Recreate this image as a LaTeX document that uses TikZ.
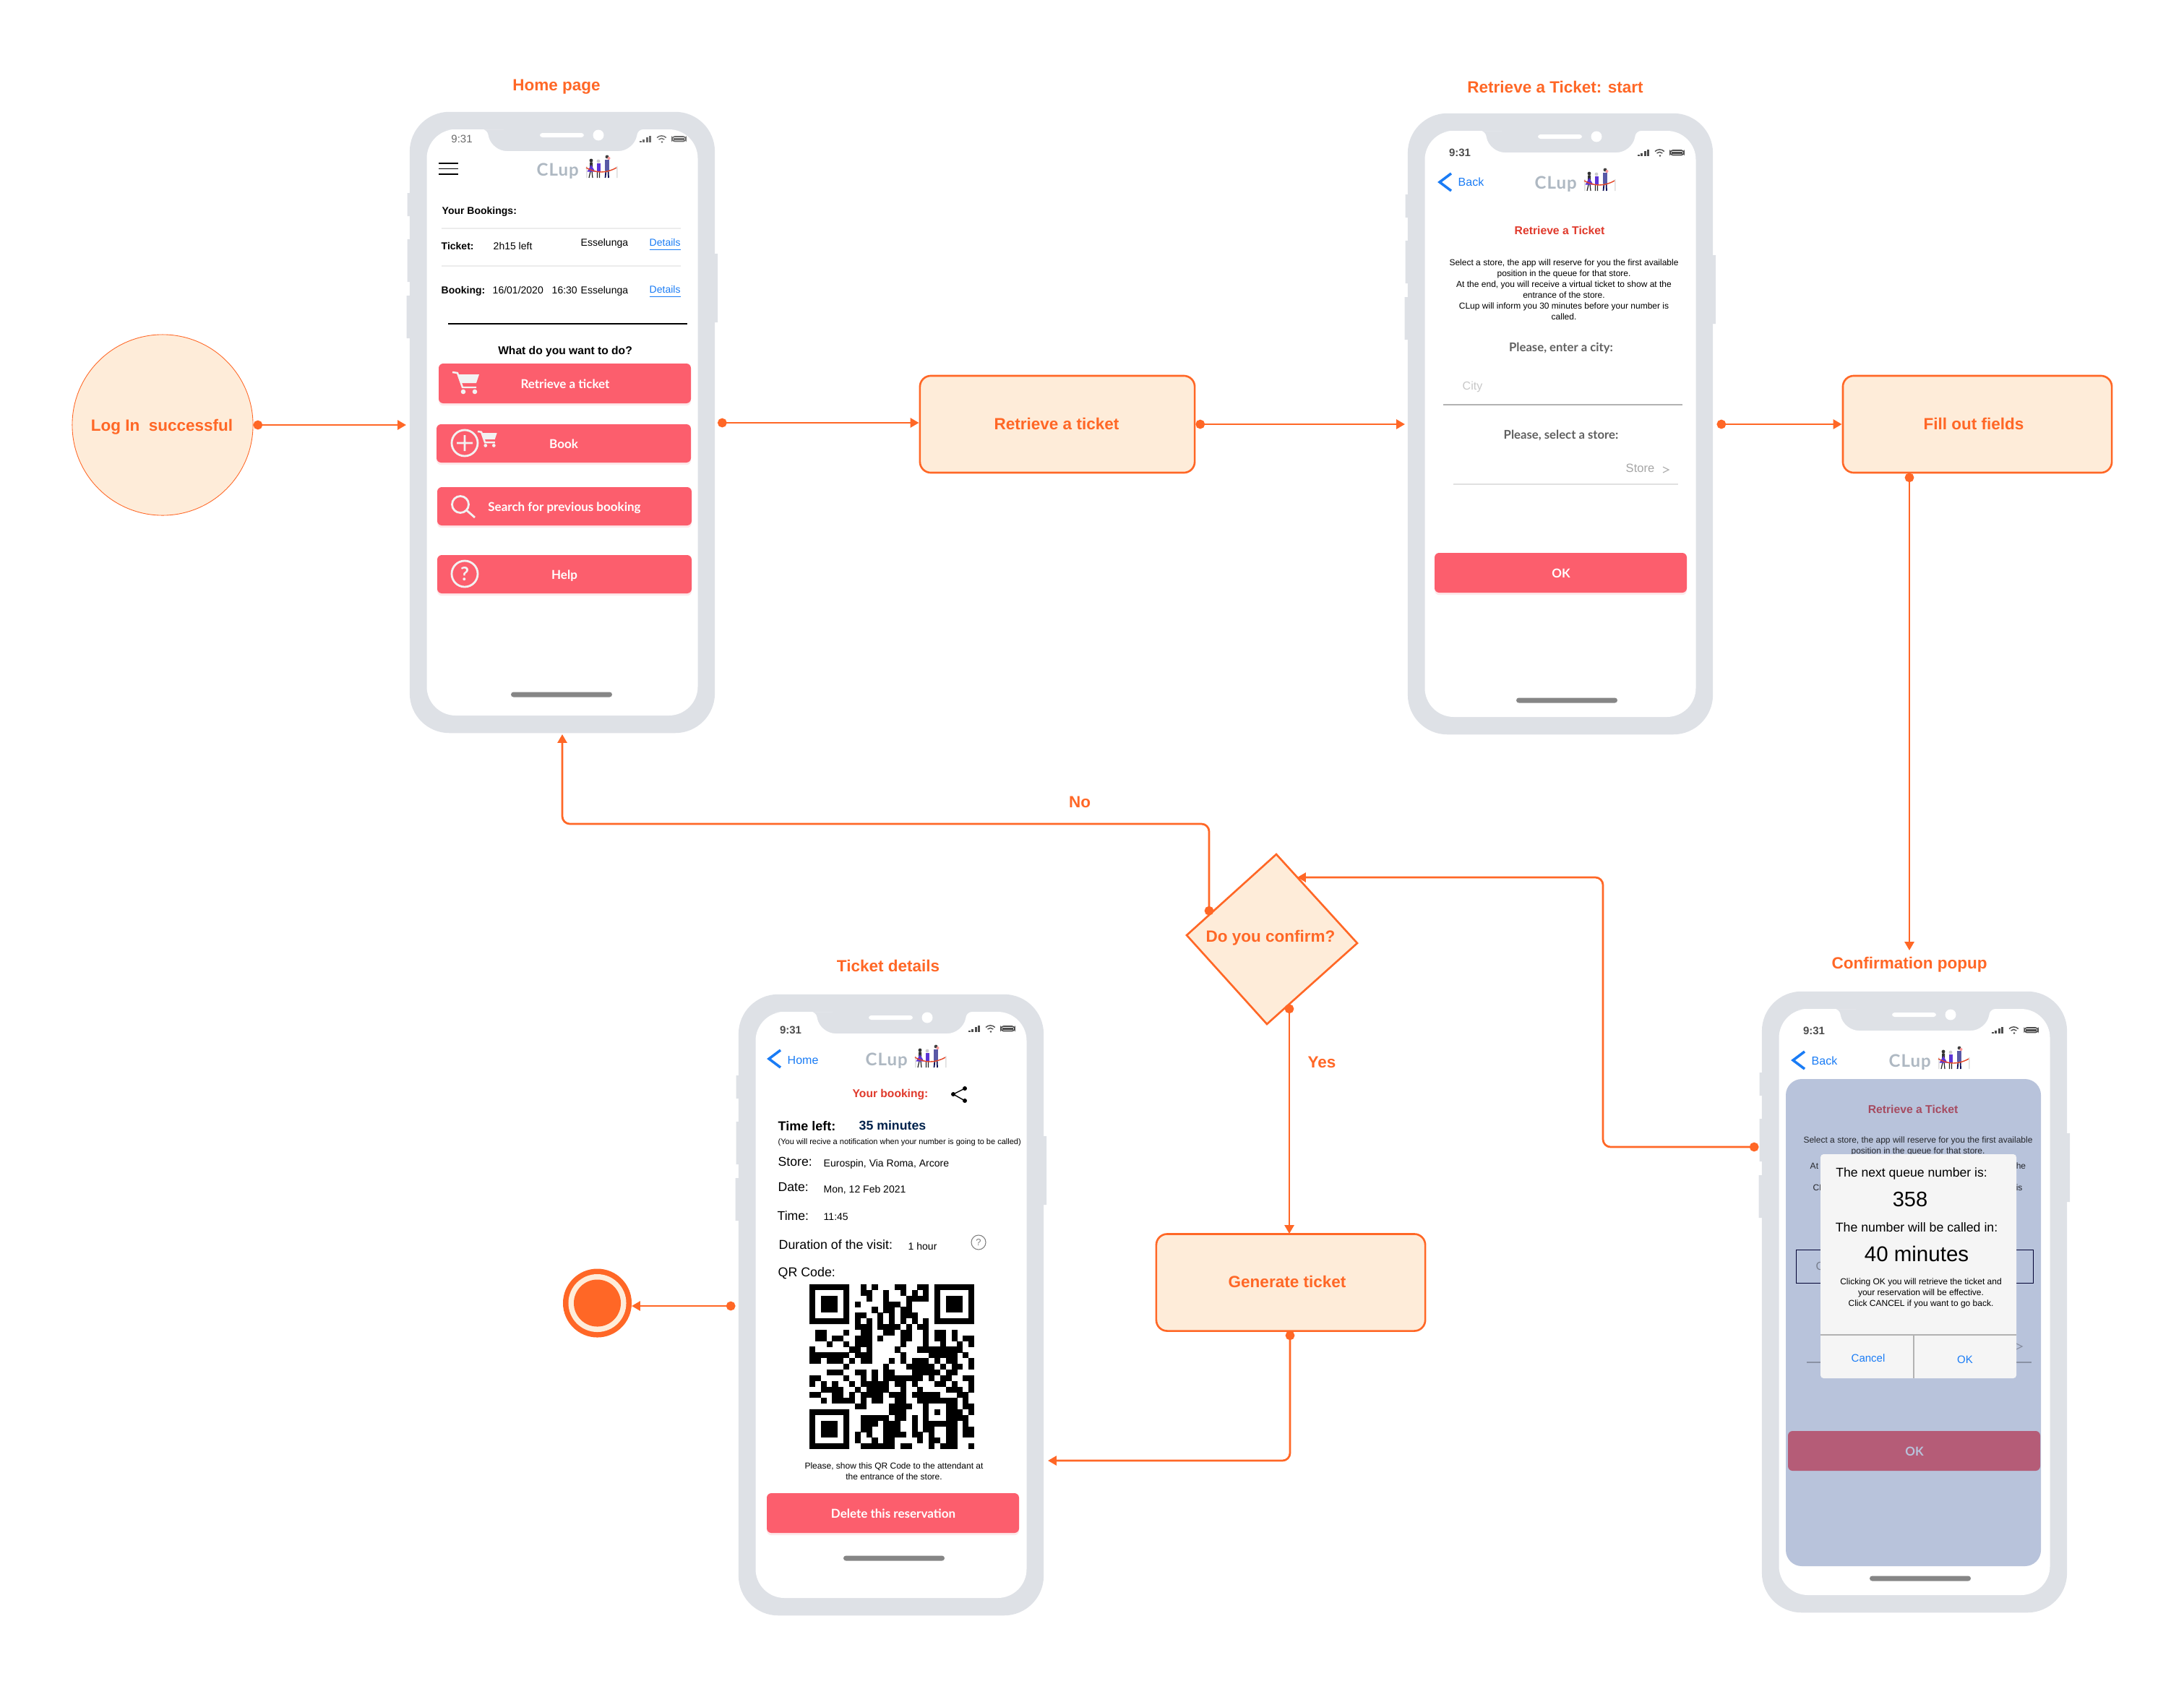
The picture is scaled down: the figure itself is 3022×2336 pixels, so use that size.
\documentclass[tikz,border=0pt]{standalone}
\usepackage{fontspec}
\setmainfont{Liberation Sans}
\newfontfamily\latofont{Lato}
\newfontfamily\logofont[LetterSpace=4]{Lato}
\usetikzlibrary{arrows.meta,shadows}
\definecolor{flowc}{HTML}{FF6726}
\definecolor{creamc}{HTML}{FEECD9}
\definecolor{framec}{HTML}{DEE1E6}
\definecolor{btnc}{HTML}{FC5E6D}
\definecolor{bluec}{HTML}{1A7CF5}
\definecolor{redc}{HTML}{E0392B}
\definecolor{overlayc}{HTML}{B8C3DB}
\definecolor{popbtnc}{HTML}{B55C77}
\definecolor{popredc}{HTML}{A64B60}
\definecolor{logoc}{HTML}{AEB8C2}
\newcommand{\fpx}[1]{\fontsize{\the\dimexpr#1\dimexpr.2845pt\relax\relax}{\the\dimexpr#1\dimexpr.356pt\relax\relax}\selectfont}
\newcommand{\textlift}{.7pt}
\newcommand{\storetext}{Select a store, the app will reserve for you the first available\\position in the queue for that store.\\At the end, you will receive a virtual ticket to show at the\\entrance of the store.\\CLup will inform you 30 minutes before your number is\\called.}
\tikzset{
  flow/.style={line width=.78pt,draw=flowc,rounded corners=3pt,
    {Circle[length=3.6pt,fill=flowc]}-{Triangle[length=3.4pt,width=3.7pt,fill=flowc]}},
  flowbox/.style={draw=flowc,fill=creamc,line width=.75pt,rounded corners=4.3pt,
    minimum width=3.78cm,minimum height=1.34cm,inner sep=0pt},
  flowlbl/.style={inner sep=0pt,anchor=mid,text=flowc,font=\fpx{22.5}\bfseries},
  phonebody/.style={fill=framec,rounded corners=15.6pt,minimum width=4.22cm,minimum height=8.59cm,inner sep=0pt},
  txt/.style={inner sep=0pt,anchor=mid west,yshift=\textlift},
  ctxt/.style={inner sep=0pt,anchor=mid,yshift=\textlift},
  btnlbl/.style={inner sep=0pt,anchor=mid,text=white,yshift=.5pt,font=\fpx{17}\latofont\bfseries},
  btnrect/.style={fill=btnc,rounded corners=1.8pt,drop shadow={shadow xshift=0pt,shadow yshift=-.9pt,fill=btnc,opacity=.14}},
  icon/.style={draw=#1,line width=.8pt},
  hair/.style={line width=.3pt}
}
% the frame of a phone, in the coordinates of its scope
\newcommand{\phoneframe}[3]{
  \fill[framec] (-3.5,112) rectangle (3,144) (-3.5,176) rectangle (3,235) (-4.5,254) rectangle (3,313) (418,196) rectangle (426,291);
  \node[phonebody] (#1) at (211,429.5) {};
  \fill[white] (23.5,430) [rounded corners=11.4pt] -- (23.5,24) -- (90,24) [rounded corners=2pt] -- (107,24) [rounded corners=6pt] -- (113,54) -- (310,54) [rounded corners=2pt] -- (316,24) [rounded corners=11.4pt] -- (398.5,24) -- (398.5,835) -- (23.5,835) -- cycle;
  \fill[white,rounded corners=1pt] (180,29) rectangle (241,35);
  \fill[white] (261,32) circle (7.5);
  \fill[gray!95,rounded corners=1pt] (#2,#3-3.5) rectangle ++(140,7);
}
% status bar and the logo
\newcommand{\topbar}[4]{
  \node[ctxt,font=\fpx{15}#2,text=#3] at (72,#1) {9:31};
  \foreach \i/\h in {0/2,1/4,2/6.5,3/9} {\fill[#3] (318+\i*4.4,#1+4.5) rectangle ++(3,-\h);}
  \draw[#3,line width=.4pt] (342,#1-1.5) arc (225:315:9) (344.5,#1+1) arc (225:315:5.5);
  \fill[#3] (349,#1+4.5) circle (1.4);
  \draw[#3,line width=.45pt,rounded corners=1pt] (363,#1-3) rectangle (382,#1+3.5);
  \fill[#3] (365,#1-1) rectangle (380,#1+1.5);
  \node[inner sep=0pt,anchor=mid west,font=\fpx{24}\logofont\bfseries,text=logoc] at (175,#4) {CLup};
  \begin{scope}[shift={(244,#4)}]
    \fill[gray!25] (0,-4) rectangle (1.5,12) (42,-4) rectangle (43.5,12);
    \draw[black!85,line width=.35pt] (6,3) -- (4,12) (8,3) -- (9,12) (15.5,3) -- (15.5,12) (18.5,3) -- (18.5,12);
    \draw[gray!30!blue!40!black,line width=.5pt] (27.5,2) -- (26.5,12) (30.5,2) -- (31,12);
    \fill[black!80] (7,-12) circle (2.4) (5,-9.5) rectangle (9,-3);
    \fill[blue!60!violet!80] (7,-6) -- (1.5,3.5) -- (12.5,3.5) -- cycle;
    \fill[gray!40] (17,-11) circle (2.4);
    \fill[blue!60!violet!80] (14.5,-8) rectangle (19.5,3);
    \fill[black!75] (29,-17) circle (2.4);
    \fill[blue!30!gray] (26,-13) rectangle (32,2);
    \fill[red!40] (31.5,-15) circle (2);
    \draw[redc!85!orange,line width=.4pt] (0,-2) .. controls (14,6) and (28,6) .. (42,-2);
  \end{scope}
}
\newcommand{\backchev}[3]{
  \draw[bluec,line width=1pt] (#1+16,#2-12) -- (#1,#2) -- (#1+16,#2+12);
  \node[txt,font=\fpx{16},text=bluec] at (#1+25,#2) {#3};
}
\newcommand{\carticon}[3]{
  \begin{scope}[shift={(#1,#2)},scale=#3]
    \draw[white!90!gray,line width=.7pt] (0,0) -- (7,1) -- (14,21) -- (33,21);
    \fill[white!90!gray] (7,3) -- (37,3) -- (33,15) -- (11,15) -- cycle;
    \fill[white!90!gray] (15,27) circle (3.3) (31,27) circle (3.3);
  \end{scope}
}
\begin{document}
\begin{tikzpicture}[x=.01cm,y=-.01cm]
\useasboundingbox (0,0) rectangle (3022,2336);
%%% home page
\node[flowlbl] (hometitle) at (770,116) {Home page};
\begin{scope}[shift={(567,155)}]
  \renewcommand{\textlift}{1.1pt}
  \phoneframe{home}{140}{806}
  \topbar{37}{}{black!58}{79}
  \draw[black,line width=.42pt] (40,71) -- (67,71) (40,78.5) -- (67,78.5) (40,86) -- (67,86);
  \node[txt,font=\fpx{14}\bfseries] (hbook) at (44,136) {Your Bookings:};
  \draw[gray!15,hair] (44,161) -- (375,161) (44,213) -- (375,213);
  \node[txt,font=\fpx{14}\bfseries] (hticket) at (43,185) {Ticket:};
  \node[txt,font=\fpx{14}] (hleft) at (115,185) {2h15 left};
  \node[txt,font=\fpx{14}] (hstoreone) at (236,180) {Esselunga};
  \node[txt,font=\fpx{14},text=bluec] (hdetone) at (331,180) {\underline{Details}};
  \node[txt,font=\fpx{14}\bfseries] (hbooking) at (43,246) {Booking:};
  \node[txt,font=\fpx{14}] (hdate) at (114,246) {16/01/2020};
  \node[txt,font=\fpx{14}] (htime) at (196,246) {16:30};
  \node[txt,font=\fpx{14}] (hstoretwo) at (236,246) {Esselunga};
  \node[txt,font=\fpx{14},text=bluec] (hdettwo) at (331,245) {\underline{Details}};
  \draw[black,line width=.42pt] (53,293) -- (384,293);
  \node[ctxt,font=\fpx{15.6}\bfseries] (hwhat) at (215,330) {What do you want to do?};
  \fill[btnrect] (40,348) rectangle (389,403);
  \fill[btnrect] (37,432) rectangle (389,485);
  \fill[btnrect] (38,519) rectangle (390,572);
  \fill[btnrect] (38,613) rectangle (390,666);
  \node[btnlbl] (hbtnone) at (215,375) {Retrieve a ticket};
  \node[btnlbl] (hbtntwo) at (213,458) {Book};
  \node[btnlbl] (hbtnthree) at (214,545) {Search for previous booking};
  \node[btnlbl] (hbtnfour) at (214,639) {Help};
  \carticon{59}{360}{1}
  \carticon{94}{442}{.72}
  \draw[icon=white!90!gray] (76,458) circle (18) (65,458) -- (87,458) (76,447) -- (76,469);
  \draw[icon=white!90!gray] (70,543) circle (11.5) (78.5,551) -- (90,561);
  \node[circle,draw=white!90!gray,line width=.8pt,minimum width=.36cm,inner sep=0pt,text=white!90!gray,font=\fpx{26}\latofont\bfseries] (hhelp) at (76,639) {?};
\end{scope}
%%% retrieve a ticket
\node[flowlbl] (rettitle) at (2152,119) {Retrieve a Ticket: start};
\begin{scope}[shift={(1948,157)}]
  \renewcommand{\textlift}{1.1pt}
  \phoneframe{retr}{150}{812}
  \topbar{54}{\bfseries}{black!70}{95}
  \backchev{44}{95}{Back}
  \node[ctxt,font=\fpx{15.7}\bfseries,text=redc] (rhead) at (210,162) {Retrieve a Ticket};
  \node[font=\fpx{12},align=center,inner sep=0pt] (rpara) at (216,243.5) {\storetext};
  \node[ctxt,font=\fpx{16.7}\bfseries\latofont,text=black!62] (rcity) at (212,324) {Please, enter a city:};
  \node[txt,font=\fpx{16},text=black!22] (rcityin) at (75,377) {City};
  \draw[black!30,line width=.4pt] (49,403) -- (380,403);
  \node[ctxt,font=\fpx{16.7}\bfseries\latofont,text=black!62] (rstore) at (212,445) {Please, select a store:};
  \node[txt,font=\fpx{16.5},text=black!35] (rstorein) at (301,491) {Store};
  \draw[black!30,line width=.35pt] (353,489) -- (361,493) -- (353,497);
  \draw[black!12,line width=.35pt] (63,513) -- (374,513);
  \fill[btnrect] (37,608) rectangle (386,663);
  \node[btnlbl] (rok) at (212,635) {OK};
\end{scope}
%%% ticket details
\node[flowlbl] (tkttitle) at (1229,1335) {Ticket details};
\begin{scope}[shift={(1022,1376)}]
  \renewcommand{\textlift}{.4pt}
  \phoneframe{tkt}{145}{780}
  \topbar{47}{\bfseries}{black!70}{89}
  \backchev{42}{89}{Home}
  \node[ctxt,font=\fpx{15.6}\bfseries,text=redc] (thead) at (210,135) {Your booking:};
  \draw[black,line width=.4pt] (313,130) -- (297,138) -- (313,147);
  \fill[black] (313,130) circle (3) (297,138) circle (3) (313,147) circle (3);
  \node[txt,font=\fpx{18}\bfseries] (tleft) at (54,181) {Time left:};
  \node[txt,font=\fpx{17.7}\bfseries,text=blue!55!cyan!30!black] (tmins) at (166,180) {35 minutes};
  \node[txt,font=\fpx{11}] (tnote) at (54,200) {(You will recive a notification when your number is going to be called)};
  \node[txt,font=\fpx{17.6}] (tstore) at (54,230) {Store:};
  \node[txt,font=\fpx{14}] (tstoreval) at (117,231) {Eurospin, Via Roma, Arcore};
  \node[txt,font=\fpx{17.6}] (tdate) at (54,265) {Date:};
  \node[txt,font=\fpx{14}] (tdateval) at (117,267) {Mon, 12 Feb 2021};
  \node[txt,font=\fpx{17.6}] (ttime) at (53,305) {Time:};
  \node[txt,font=\fpx{14}] (ttimeval) at (117,305) {11:45};
  \node[txt,font=\fpx{17.8}] (tdur) at (55,345) {Duration of the visit:};
  \node[txt,font=\fpx{14}] (tdurval) at (234,346) {1 hour};
  \node[circle,draw=gray,line width=.3pt,minimum width=.2cm,inner sep=0pt,text=gray,font=\fpx{13}] (tinfo) at (332,343) {?};
  \node[txt,font=\fpx{17.8}] (tqr) at (54,383) {QR Code:};
  \begin{scope}[shift={(98,401)}]
    \foreach \fx/\fy in {0/0,22/0,0/22} {
      \fill[even odd rule] (\fx*7.86,\fy*7.86) rectangle ++(55,55) (\fx*7.86+7.86,\fy*7.86+7.86) rectangle ++(39.3,39.3);
      \fill (\fx*7.86+15.72,\fy*7.86+15.72) rectangle ++(23.6,23.6);
    }
    \foreach \r/\cl in {0/{9,11,15,16,19,20},1/{9,10,13,16,18,20},2/{10,13,17,18,19,20},3/{8,13,14,15,17},4/{11,13,14,16,17},
      5/{8,9,12,14,16,17,18},6/{8,10,12,14,16,18,20},7/{8,9,10,12,13,14,15,17,19,20},
      8/{1,2,6,9,10,13,14,16,17,20,22,23,25},9/{1,2,4,5,8,9,10,12,16,17,20,22,23,25,27,28},10/{3,6,8,9,10,16,20,23,26,28},
      11/{0,7,8,10,15,19,20,21,22,23,24,25,26},12/{0,1,2,3,4,5,6,8,9,10,16,21,22,23,24,25,27},13/{0,1,3,4,5,7,9,10,14,16,18,19,20,22,24,25,28},
      14/{6,13,17,18,19,20,21,23,25,26,28},15/{3,4,5,8,9,11,13,14,18,19,20,21,22,24,25},16/{0,1,6,9,11,13,14,15,16,17,18,19,21,23,24,27,28},
      17/{0,2,4,7,9,10,11,12,13,15,16,18,22,23,25,28},18/{2,3,4,5,8,10,11,12,13,16,19,24,25,26,28},19/{0,1,4,5,7,9,10,11,12,14,15,16,18,19,20,21,22,26,27},
      20/{2,4,5,6,7,9,11,12,15,16,19,20,21,22,23,24,25,27},21/{8,9,14,15,16,17,20,24,25,27,28},22/{14,15,16,20,22,24,25,26,28},
      23/{9,10,11,12,13,15,16,18,20,24,25,26,27},24/{9,10,11,13,14,15,18,20,21,22,23,24,25,27},25/{9,10,13,14,15,18,20,21,24,25,27,28},
      26/{8,10,13,14,15,16,18,19,21,24,25,27,28},27/{8,11,13,14,19,21,22,24,25},28/{9,10,11,12,13,14,16,17,21,23,24,25,28}} {
      \foreach \c in \cl {\fill (\c*7.86,\r*7.86) rectangle ++(8.1,8.1);}
    }
  \end{scope}
  \node[font=\fpx{12},align=center,inner sep=0pt] (tshow) at (215,659.5) {Please, show this QR Code to the attendant at\\the entrance of the store.};
  \fill[btnrect] (39,690) rectangle (388,745);
  \node[btnlbl] (tdel) at (214,717) {Delete this reservation};
\end{scope}
%%% confirmation popup
\node[flowlbl] (poptitle) at (2642,1331) {Confirmation popup};
\begin{scope}[shift={(2438,1372)}]
  \phoneframe{pop}{149}{812}
  \topbar{53}{\bfseries}{black!70}{95}
  \backchev{43}{95}{Back}
  \fill[overlayc,rounded corners=6.3pt] (33,121) rectangle (386,795);
  \node[ctxt,font=\fpx{15.7}\bfseries,text=popredc] (phead) at (209,162) {Retrieve a Ticket};
  \node[font=\fpx{12},align=center,inner sep=0pt,text=black!80!overlayc] (ppara) at (216,214) {Select a store, the app will reserve for you the first available\\position in the queue for that store.};
  \node[txt,font=\fpx{12},text=black!80!overlayc,yshift=-.7pt] (pfragone) at (66,236) {At t};
  \node[txt,font=\fpx{12},text=black!80!overlayc,yshift=-.7pt] (pfragtwo) at (351,236) {he};
  \node[txt,font=\fpx{12},text=black!80!overlayc,yshift=-.7pt] (pfragthree) at (70,266) {CL};
  \node[txt,font=\fpx{12},text=black!80!overlayc,yshift=-.7pt] (pfragfour) at (351,266) {is};
  \draw[black!80!blue,line width=.3pt] (47,357) rectangle (375,403);
  \node[txt,font=\fpx{16},text=black!35!overlayc] (pcity) at (74,379) {C};
  \draw[black!25!overlayc,line width=.35pt] (62,513) -- (373,513);
  \draw[black!25!overlayc,line width=.35pt] (352,487) -- (360,491) -- (352,495);
  \fill[popbtnc,rounded corners=1.8pt] (36,608) rectangle (385,663);
  \node[btnlbl,text=overlayc] (pok) at (211,635) {OK};
  \fill[black!4,rounded corners=1.2pt] (81,225) rectangle (352,535);
  \node[ctxt,font=\fpx{17.6}] (pnext) at (207,250) {The next queue number is:};
  \node[ctxt,font=\fpx{29}] (pnum) at (205,291) {358};
  \node[ctxt,font=\fpx{17.7}] (pcall) at (214,326) {The number will be called in:};
  \node[ctxt,font=\fpx{29.5}] (pmins) at (214,367) {40 minutes};
  \node[font=\fpx{12},align=center,inner sep=0pt] (pinfo) at (220,417) {Clicking OK you will retrieve the ticket and\\your reservation will be effective.\\Click CANCEL if you want to go back.};
  \draw[black!30,line width=.42pt] (81,475) -- (352,475) (210,475) -- (210,535);
  \node[ctxt,font=\fpx{15},text=bluec] (pcancel) at (147,506) {Cancel};
  \node[ctxt,font=\fpx{15},text=bluec] (pyes) at (281,508) {OK};
\end{scope}
%%% flow nodes
\node[circle,fill=creamc,draw=flowc,line width=.25pt,minimum size=2.5cm,inner sep=0pt] (login) at (225,588) {};
\node[flowlbl] (loginlbl) at (224,587) {Log In\ \ successful};
\node[flowbox,minimum width=3.8cm] (retbox) at (1463,587) {};
\node[flowlbl] (retlbl) at (1462,585) {Retrieve a ticket};
\node[flowbox,minimum width=3.72cm] (fillbox) at (2736,587) {};
\node[flowlbl] (filllbl) at (2731,585) {Fill out fields};
\node[flowbox,minimum width=3.72cm] (genbox) at (1786,1774.5) {};
\node[flowlbl] (genlbl) at (1781,1772) {Generate ticket};
\coordinate (dtop) at (1766,1182);
\coordinate (dright) at (1878,1305);
\coordinate (dbot) at (1753,1417);
\coordinate (dleft) at (1642,1294);
\draw[fill=creamc,draw=flowc,line width=.75pt] (dtop) -- (dright) -- (dbot) -- (dleft) -- cycle;
\node[flowlbl] (confirm) at (1758,1294) {Do you confirm?};
\node[circle,fill=flowc,minimum size=.95cm,inner sep=0pt] (endout) at (826.5,1803) {};
\node[circle,fill=creamc,minimum size=.8cm,inner sep=0pt] (endring) at (826.5,1803) {};
\node[circle,fill=flowc,minimum size=.65cm,inner sep=0pt] (endin) at (826.5,1803) {};
%%% connectors
\coordinate (homein) at (562,588);
\coordinate (homeout) at (993,585);
\coordinate (retin) at (1944,587);
\coordinate (retout) at (2375.5,587);
\coordinate (fillout) at (2642,654.5);
\coordinate (popin) at (2642,1315);
\coordinate (popout) at (2433.5,1587);
\coordinate (popturn) at (2218,1587);
\coordinate (popup) at (2218,1214);
\coordinate (dback) at (1795,1214);
\coordinate (dno) at (1673,1266.5);
\coordinate (noturn) at (1673,1140);
\coordinate (noleft) at (778,1140);
\coordinate (homeback) at (778,1016);
\coordinate (dyes) at (1784,1389.5);
\coordinate (genin) at (1784,1707);
\coordinate (genout) at (1785,1841.5);
\coordinate (genturn) at (1785,2021);
\coordinate (tktin) at (1450,2021);
\coordinate (tktout) at (1017.5,1807);
\coordinate (endtip) at (874,1807);
\draw[flow] (login.east) -- (homein);
\draw[flow] (homeout) -- (homeout -| retbox.west);
\draw[flow] (retbox.east) -- (retin);
\draw[flow] (retout) -- (fillbox.west);
\draw[flow] (fillout) -- (popin);
\draw[flow] (popout) -- (popturn) -- (popup) -- (dback);
\draw[flow] (dno) -- (noturn) -- (noleft) -- (homeback);
\draw[flow] (dyes) -- (genin);
\draw[flow] (genout) -- (genturn) -- (tktin);
\draw[flow] (tktout) -- (endtip);
\node[flowlbl] (nolbl) at (1494,1108) {No};
\node[flowlbl] (yeslbl) at (1829,1468) {Yes};
\end{tikzpicture}
\end{document}
